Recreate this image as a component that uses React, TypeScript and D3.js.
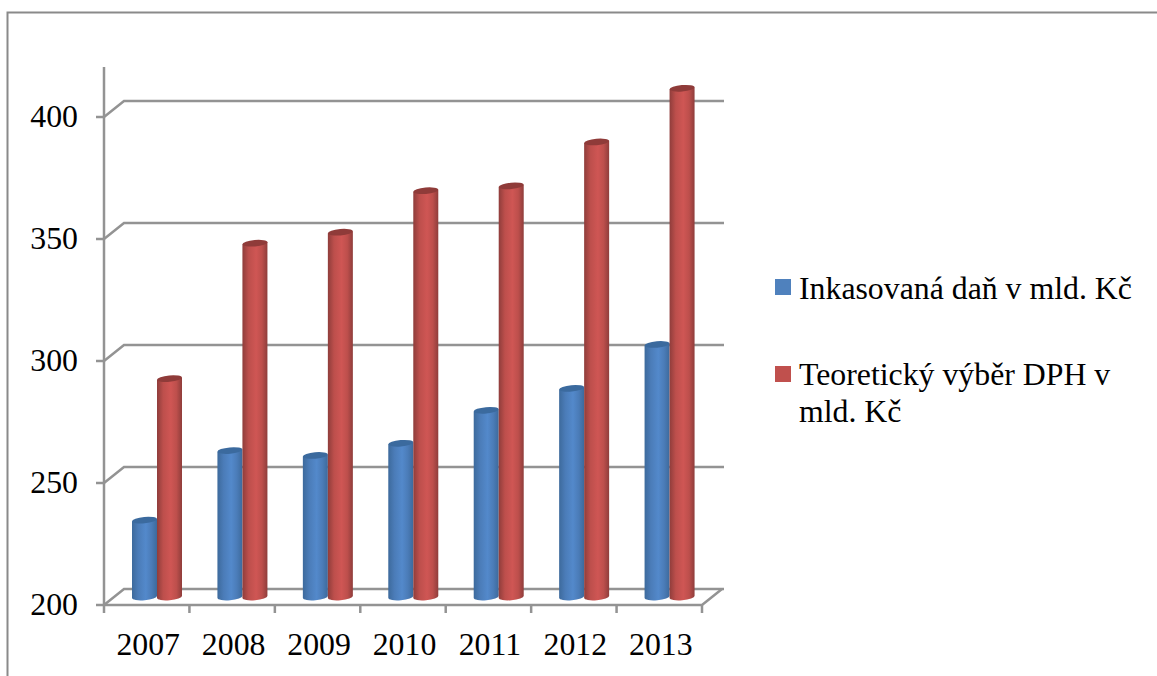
import React from "react";
import * as d3 from "d3";

// Annual VAT figures, billions of CZK
const years = ["2007", "2008", "2009", "2010", "2011", "2012", "2013"];
const collected = [231.5, 260, 258, 263, 276.5, 285.5, 303.5];
const theoretical = [289.5, 345, 349.5, 366.5, 368.5, 386.5, 408.5];
const yTicks = [200, 250, 300, 350, 400];
const seriesNames = ["Inkasovaná daň v mld. Kč", "Teoretický výběr DPH v"];
const legendSecondLine = "mld. Kč";

const width = 1157;
const height = 676;
const font = "'Liberation Serif', 'Times New Roman', serif";
const gridColor = "#939393";

// Front plane of the 3D box, and the depth offset towards the back wall
const frontLeft = 104;
const frontRight = 702;
const depthX = 20;
const depthY = -16;

const y = d3.scaleLinear().domain([200, 400]).range([605, 117]);
const x = d3.scaleBand().domain(years).range([frontLeft, frontRight]);
const series = d3.scaleBand().domain(["collected", "theoretical"]).range([28, 78]);

const tilt = -5;
const rx = 12.5;
const ry = 3.2;
const slope = rx * Math.sin((-tilt * Math.PI) / 180);
const baseY = 597;
// Bars stand mid-depth in the box, so their tops sit on a shifted value scale
const barY = (v: number) => y(v) - (605 - baseY);

function Cylinder({ left, value, fill, cap }: { left: number; value: number; fill: string; cap: string }) {
  const w = rx * 2;
  const cx = left + rx;
  const top = barY(value);
  const d = `M${left},${top + slope}L${left},${baseY + slope}A${rx},${ry} ${tilt} 0 0 ${left + w},${baseY - slope}L${left + w},${top - slope}Z`;
  return (
    <g>
      <path d={d} fill={`url(#${fill})`} />
      <ellipse cx={cx} cy={top} rx={rx} ry={ry} fill={cap} transform={`rotate(${tilt} ${cx} ${top})`} />
    </g>
  );
}

function Gradient({ id, edge, mid, light }: { id: string; edge: string; mid: string; light: string }) {
  return (
    <linearGradient id={id} x1="0" x2="1" y1="0" y2="0">
      <stop offset="0" stopColor={edge} />
      <stop offset="0.25" stopColor={mid} />
      <stop offset="0.55" stopColor={light} />
      <stop offset="0.78" stopColor={mid} />
      <stop offset="1" stopColor={edge} />
    </linearGradient>
  );
}

export default function App() {
  return (
    <svg width={width} height={height} style={{ position: "absolute", left: 0, top: 0, background: "#fff" }}>
      <defs>
        <Gradient id="barBlue" edge="#3d6a9c" mid="#4b7cb8" light="#5389cb" />
        <Gradient id="barRed" edge="#8f3d3b" mid="#bd4f4c" light="#cf5654" />
      </defs>

      {/* Outer frame, open on the right and bottom */}
      <path d={`M7.5,${height}V12.5H${width}`} fill="none" stroke="#8a8a8a" strokeWidth={2} />

      {/* Back wall gridlines with their side-wall diagonals */}
      <g fill="none" stroke={gridColor} strokeWidth={2.5}>
        {yTicks.map((t) => (
          <path
            key={t}
            d={`M${frontLeft},${y(t)}l${depthX},${depthY}H${frontRight + depthX + 2}`}
          />
        ))}
        <path d={`M${frontLeft},${y(200)}H${frontRight}l${depthX},${depthY}`} />
        <path d={`M${frontLeft},67V${y(200)}`} />
        {yTicks.map((t) => (
          <path key={t} d={`M96,${y(t)}H${frontLeft}`} />
        ))}
        {years.map((yr) => (
          <path key={yr} d={`M${x(yr)},${y(200)}v8`} />
        ))}
        <path d={`M${frontRight},${y(200)}v8`} />
      </g>

      {/* Cylinders */}
      {years.map((yr, i) => (
        <g key={yr}>
          <Cylinder left={x(yr)! + series("collected")!} value={collected[i]} fill="barBlue" cap="#3b6a9e" />
          <Cylinder left={x(yr)! + series("theoretical")!} value={theoretical[i]} fill="barRed" cap="#8f3b39" />
        </g>
      ))}

      {/* Axis labels */}
      <g fontFamily={font} fontSize={31.8} fill="#000">
        {yTicks.map((t) => (
          <text key={t} x={78} y={y(t) + 10} textAnchor="end">{t}</text>
        ))}
        {years.map((yr) => (
          <text key={yr} x={x(yr)! + x.bandwidth() / 2 + 1.5} y={655} textAnchor="middle">{yr}</text>
        ))}
      </g>

      {/* Legend */}
      <g fontFamily={font} fontSize={31.8} fill="#000">
        <rect x={775} y={279} width={16} height={16} fill="#4f81bd" />
        <text x={799} y={299}>{seriesNames[0]}</text>
        <rect x={775} y={366} width={16} height={16} fill="#c0504d" />
        <text x={799} y={385}>{seriesNames[1]}</text>
        <text x={799} y={422}>{legendSecondLine}</text>
      </g>
    </svg>
  );
}
